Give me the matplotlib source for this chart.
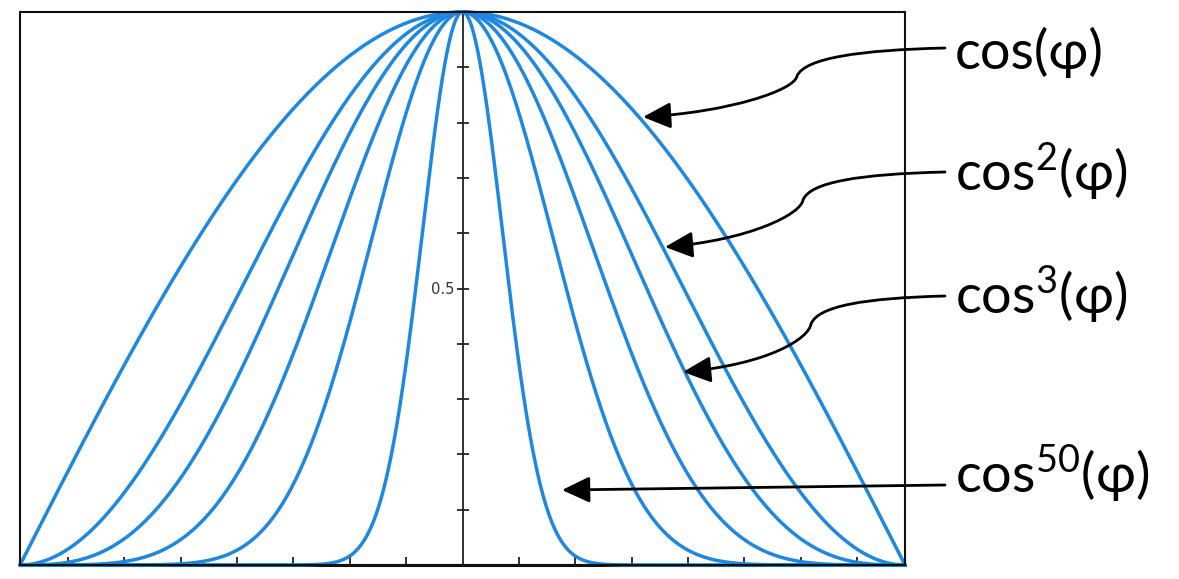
import numpy as np
import matplotlib
matplotlib.use("Agg")
import matplotlib.pyplot as plt
from matplotlib.patches import FancyArrowPatch, Rectangle, ArrowStyle
from matplotlib.path import Path

# ---- data ----
exponents = [1, 2, 3, 5, 10, 50]
phi_min, phi_max = -np.pi / 2, np.pi / 2
x_ticks = [-1.4, -1.2, -1.0, -0.8, -0.6, -0.4, -0.2, 0.2, 0.4, 0.6, 0.8, 1.0, 1.2, 1.4]
y_ticks = [0.1, 0.2, 0.3, 0.4, 0.5, 0.6, 0.7, 0.8, 0.9]
y_tick_labels = ["", "", "", "", "0.5", "", "", "", ""]
labels = ["cos(φ)", "cos$^{2}$(φ)", "cos$^{3}$(φ)", "cos$^{50}$(φ)"]

plt.rcParams["mathtext.fontset"] = "custom"
plt.rcParams["mathtext.rm"] = "Lato"
plt.rcParams["mathtext.default"] = "regular"

W, H = 1179, 579
fig = plt.figure(figsize=(W / 100, H / 100), dpi=100)
fig.patch.set_facecolor("white")

ax = fig.add_axes([20 / W, 14 / H, 885 / W, 553 / H])
phi = np.linspace(phi_min, phi_max, 2001)
blue = "#1e88e0"
for n in exponents:
    ax.plot(phi, np.cos(phi) ** n, color=blue, lw=2.5, clip_on=False, zorder=3,
            solid_capstyle="round")

ax.set_xlim(phi_min, phi_max)
ax.set_ylim(0, 1)

for s in ["right", "top"]:
    ax.spines[s].set_visible(False)
ax.spines["left"].set_position(("data", 0))
ax.spines["left"].set_color("#222222")
ax.spines["left"].set_linewidth(1.3)
ax.spines["bottom"].set_color("#111111")
ax.spines["bottom"].set_linewidth(2.2)
ax.add_patch(Rectangle((0, 0), 1, 1, transform=ax.transAxes, fill=False,
                       ec="#111111", lw=1.5, clip_on=False, zorder=4))

ax.set_xticks(x_ticks)
ax.set_xticklabels([])
ax.set_yticks(y_ticks)
ax.set_yticklabels(y_tick_labels)
ax.tick_params(axis="x", direction="in", length=6, width=1.3, colors="#222222")
ax.tick_params(axis="y", direction="inout", length=9, width=1.3, colors="#222222",
               labelsize=10.5, labelcolor="#333333", pad=1)

# ---- annotation overlay (pixel coordinates, y downward) ----
oax = fig.add_axes([0, 0, 1, 1], zorder=5)
oax.set_xlim(0, W)
oax.set_ylim(H, 0)
oax.axis("off")
oax.patch.set_visible(False)

C = Path.CURVE4
M = Path.MOVETO
arrow_paths = [
    Path([(945, 48), (860, 50), (805, 58), (797, 76), (795, 90), (730, 112), (643, 117)],
         [M, C, C, C, C, C, C]),
    Path([(945, 172), (860, 174), (810, 182), (803, 200), (801, 214), (750, 240), (665, 247)],
         [M, C, C, C, C, C, C]),
    Path([(945, 296), (865, 298), (818, 306), (811, 324), (809, 338), (770, 364), (683, 372)],
         [M, C, C, C, C, C, C]),
    Path([(945, 485), (562, 490)], [M, Path.LINETO]),
]
for p in arrow_paths:
    oax.add_patch(FancyArrowPatch(path=p, arrowstyle=ArrowStyle("-|>", head_length=17, head_width=8),
                                  mutation_scale=1, color="black", lw=2.0,
                                  shrinkA=0, shrinkB=0))

text_y = [69, 191, 314, 493]
for lab, ty in zip(labels, text_y):
    oax.text(955, ty, lab, fontsize=39, family=["Lato", "DejaVu Sans"], color="black",
             ha="left", va="baseline")

fig.savefig("out.png", dpi=100, facecolor="white")
